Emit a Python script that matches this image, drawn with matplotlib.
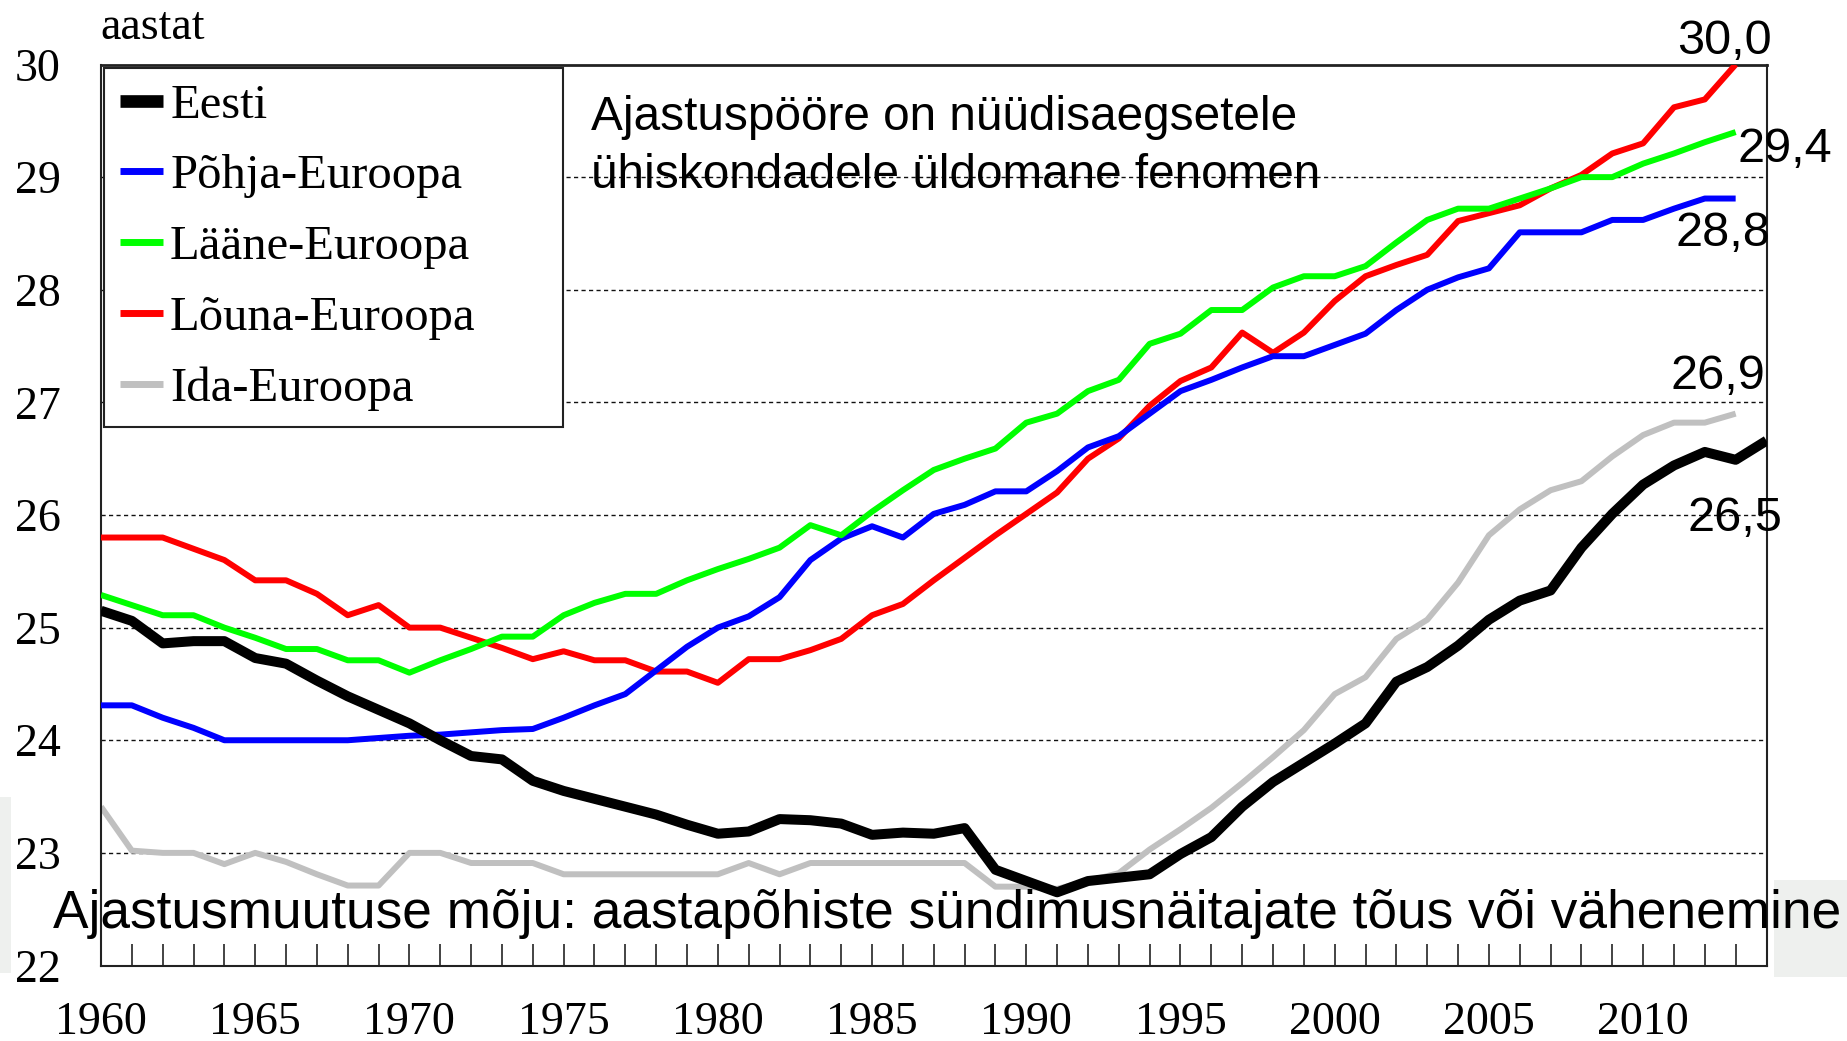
import matplotlib
matplotlib.use("Agg")
import matplotlib.pyplot as plt
from matplotlib.patches import Rectangle
import numpy as np

W, H = 1847, 1041

years_eesti = list(range(1960, 2015))
years = list(range(1960, 2014))

eesti = [25.15, 25.06, 24.86, 24.88, 24.88, 24.73, 24.68, 24.53, 24.39, 24.27,
         24.15, 24.00, 23.86, 23.83, 23.64, 23.55, 23.48, 23.41, 23.34, 23.25,
         23.17, 23.19, 23.30, 23.29, 23.26, 23.16, 23.18, 23.17, 23.22, 22.85,
         22.75, 22.65, 22.75, 22.78, 22.81, 22.99, 23.14, 23.41, 23.63, 23.80,
         23.97, 24.15, 24.52, 24.65, 24.84, 25.07, 25.24, 25.33, 25.71, 26.01,
         26.27, 26.44, 26.56, 26.49, 26.66]

pohja = [24.31, 24.31, 24.20, 24.11, 24.00, 24.00, 24.00, 24.00, 24.00, 24.02,
         24.04, 24.05, 24.07, 24.09, 24.10, 24.20, 24.31, 24.41, 24.62, 24.83,
         25.00, 25.10, 25.27, 25.60, 25.79, 25.90, 25.80, 26.01, 26.09, 26.21,
         26.21, 26.39, 26.60, 26.70, 26.90, 27.10, 27.20, 27.31, 27.41, 27.41,
         27.51, 27.61, 27.82, 28.00, 28.11, 28.19, 28.51, 28.51, 28.51, 28.62,
         28.62, 28.72, 28.81, 28.81]

laane = [25.29, 25.20, 25.11, 25.11, 25.00, 24.91, 24.81, 24.81, 24.71, 24.71,
         24.60, 24.71, 24.81, 24.92, 24.92, 25.11, 25.22, 25.30, 25.30, 25.42,
         25.52, 25.61, 25.71, 25.91, 25.82, 26.03, 26.22, 26.40, 26.50, 26.59,
         26.82, 26.90, 27.10, 27.20, 27.52, 27.61, 27.82, 27.82, 28.02, 28.12,
         28.12, 28.21, 28.42, 28.62, 28.72, 28.72, 28.81, 28.90, 29.00, 29.00,
         29.12, 29.21, 29.31, 29.40]

louna = [25.80, 25.80, 25.80, 25.70, 25.60, 25.42, 25.42, 25.30, 25.11, 25.20,
         25.00, 25.00, 24.91, 24.82, 24.72, 24.79, 24.71, 24.71, 24.61, 24.61,
         24.51, 24.72, 24.72, 24.80, 24.90, 25.11, 25.21, 25.42, 25.62, 25.82,
         26.01, 26.20, 26.50, 26.68, 26.97, 27.19, 27.31, 27.62, 27.44, 27.62,
         27.90, 28.12, 28.22, 28.31, 28.61, 28.68, 28.75, 28.90, 29.02, 29.21,
         29.30, 29.62, 29.69, 30.00]

ida = [23.41, 23.02, 23.00, 23.00, 22.90, 23.00, 22.92, 22.81, 22.71, 22.71,
       23.00, 23.00, 22.91, 22.91, 22.91, 22.81, 22.81, 22.81, 22.81, 22.81,
       22.81, 22.91, 22.81, 22.91, 22.91, 22.91, 22.91, 22.91, 22.91, 22.70,
       22.70, 22.68, 22.75, 22.82, 23.03, 23.21, 23.40, 23.62, 23.85, 24.09,
       24.41, 24.56, 24.90, 25.07, 25.40, 25.82, 26.05, 26.22, 26.30, 26.52,
       26.71, 26.82, 26.82, 26.90]

labels = ["Eesti", "Põhja-Euroopa", "Lääne-Euroopa", "Lõuna-Euroopa", "Ida-Euroopa"]
end_labels = ["30,0", "29,4", "28,8", "26,9", "26,5"]
yticks = [22, 23, 24, 25, 26, 27, 28, 29, 30]
xticks_major = [1960, 1965, 1970, 1975, 1980, 1985, 1990, 1995, 2000, 2005, 2010]

SERIF = "Liberation Serif"
SANS = "Liberation Sans"


def fx(px):
    return px / W


def fy(py):
    return 1 - py / H


fig = plt.figure(figsize=(W / 100, H / 100), dpi=100)
fig.patch.set_facecolor("white")

# slide background remnants (light gray)
for (x0, y0, x1, y1) in [(1774, 880, 1847, 977), (0, 797, 11, 973)]:
    fig.patches.append(Rectangle((fx(x0), fy(y1)), fx(x1) - fx(x0), fy(y0) - fy(y1),
                                 transform=fig.transFigure, facecolor="#eef0ee",
                                 edgecolor="none", zorder=0))

ax = fig.add_axes([fx(101), fy(965.5), fx(1766.5) - fx(101), fy(64.5) - fy(965.5)])
ax.set_facecolor("white")

series = [
    (years_eesti, eesti, "#000000", 7.2, 6),
    (years, pohja, "#0000ff", 4.3, 4),
    (years, laane, "#00ff00", 4.3, 5),
    (years, louna, "#ff0000", 4.3, 3),
    (years, ida, "#c0c0c0", 4.3, 2),
]
for (xs, ys, c, lw, z), lab in zip(series, labels):
    ax.plot(xs, ys, color=c, lw=lw, zorder=z, label=lab,
            solid_joinstyle="round", solid_capstyle="butt")

ax.set_xlim(1960, 2014)
ax.set_ylim(22, 30)

ax.set_yticks(yticks)
ax.set_yticklabels([str(v) for v in yticks], fontfamily=SERIF, fontsize=33)
ax.tick_params(axis="y", length=0, pad=29)
for v in yticks[1:-1]:
    ax.axhline(v, color="#111111", lw=1.0, ls=(0, (3.0, 2.4)), zorder=1)

ax.set_xticks(xticks_major)
ax.set_xticks(list(range(1961, 2014)), minor=True)
ax.set_xticklabels([str(v) for v in xticks_major], fontfamily=SERIF, fontsize=33)
ax.tick_params(axis="x", which="both", direction="in", length=16, width=1.1,
               color="#111111", pad=26)

for s in ax.spines.values():
    s.set_color("#222222")
    s.set_linewidth(1.5)
ax.spines["top"].set_linewidth(2.0)

leg = ax.legend(loc="upper left", bbox_to_anchor=(0.0021, 0.6032, 0.2753, 0.3929),
                mode="expand", borderaxespad=0,
                prop={"family": SERIF, "size": 35},
                handlelength=0.88, handletextpad=0.15, borderpad=0.32,
                labelspacing=0.55, frameon=True, fancybox=False,
                edgecolor="#222222", framealpha=1)
leg.get_frame().set_linewidth(1.5)
for h, lw in zip(leg.legend_handles, [9.1, 5.0, 5.0, 5.0, 5.0]):
    h.set_linewidth(lw)
leg.set_zorder(10)

# axis unit label
fig.text(fx(100), fy(39), "aastat", family=SERIF, fontsize=33, va="baseline", ha="left")

# annotation text in the plot
fig.text(fx(591), fy(129.5), "Ajastuspööre on nüüdisaegsetele", family=SANS,
         fontsize=34.4, va="baseline", ha="left", zorder=20)
fig.text(fx(591), fy(188.5), "ühiskondadele üldomane fenomen", family=SANS,
         fontsize=34.4, va="baseline", ha="left", zorder=20)

# bottom caption
fig.text(fx(53), fy(928), "Ajastusmuutuse mõju: aastapõhiste sündimusnäitajate tõus või vähenemine",
         family=SANS, fontsize=38.3, va="baseline", ha="left", zorder=20)

# end-value labels
end_pos = [(1724, 53.5), (1785, 162), (1723, 246), (1718, 389), (1735, 531)]
for txt, (px, py) in zip(end_labels, end_pos):
    fig.text(fx(px), fy(py), txt, family=SANS, fontsize=35, ha="center",
             va="baseline", zorder=20)

fig.savefig("out.png", dpi=100, facecolor="white")
